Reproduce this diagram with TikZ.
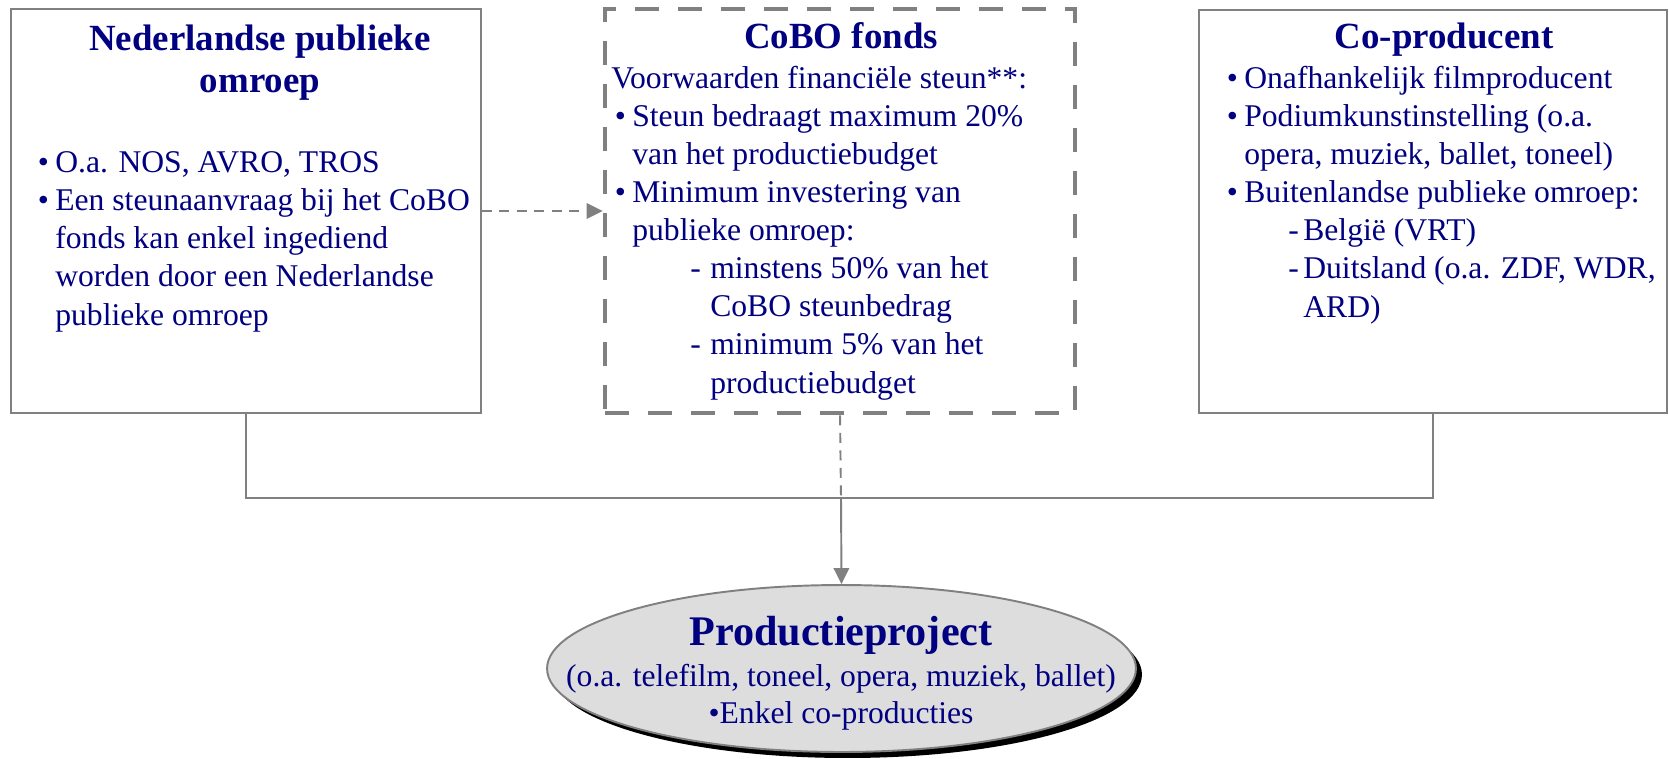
\documentclass[tikz,border=0pt]{standalone}
\usepackage{fontspec}
\setmainfont{Liberation Serif}
\usetikzlibrary{arrows.meta,positioning,shapes.geometric,shadows}

\definecolor{navy}{RGB}{0,0,128}
\definecolor{edgegray}{RGB}{128,128,128}
\definecolor{ovalgray}{RGB}{221,221,221}

\newcommand{\bodyfont}{\fontsize{18}{21.7}\selectfont}
\newcommand{\headfont}{\fontsize{21}{23.9}\selectfont\bfseries}
\newcommand{\bul}{\llap{\textbullet\hspace{0.13cm}}}
\newcommand{\ind}{\hspace*{0.42cm}}
\newcommand{\subln}[2]{\hspace*{#1}\llap{-\hspace{#2}}}

\begin{document}
\begin{tikzpicture}[
		x=0.02cm,y=-0.02cm,
		>={Triangle[length=0.32cm,width=0.31cm]},
		every node/.style={font=\bodyfont, text=navy},
		box/.style={draw=edgegray, line width=1.1pt, inner sep=0pt,
			minimum width=9.4cm, minimum height=8.08cm},
		head/.style={font=\headfont, anchor=base, align=center},
		list/.style={anchor=base west, align=left, inner sep=0pt},
		link/.style={draw=edgegray, line width=1.1pt},
		thinlink/.style={link, dash pattern=on 0.2cm off 0.15cm}
		]
		\useasboundingbox (0,0) rectangle (1669,758);
		
		% =========================
		% Top row: three boxes
		% =========================
		\node[box] (npo) at (246,211) {};
		\node[box, line width=2.7pt, dash pattern=on 0.48cm off 0.38cm] (cobo) at (840,211) {};
		\node[box, minimum width=9.36cm, minimum height=8.06cm] (cop) at (1433,211.5) {};
		
		% titles (base = last line)
		\node[head] (npo-t) at (260,92) {Nederlandse publieke\\omroep};
		\node[head] (cobo-t) at (841,48) {CoBO fonds};
		\node[head] (cop-t) at (1444,48) {Co-producent};
		
		% left: Dutch public broadcaster
		\node[list] (npo-l) at (55,325) {
			\bul O.a. NOS, AVRO, TROS\\
			\bul Een steunaanvraag bij het CoBO\\
			fonds kan enkel ingediend\\
			worden door een Nederlandse\\
			publieke omroep
		};
		
		% middle: fund conditions
		\node[list] (cobo-l) at (611,393) {
			Voorwaarden financiële steun**:\\
			\ind\bul Steun bedraagt maximum 20\%\\
			\ind van het productiebudget\\
			\ind\bul Minimum investering van\\
			\ind publieke omroep:\\
			\ind\subln{1.56cm}{0.19cm}minstens 50\% van het\\
			\ind\hspace*{1.56cm}CoBO steunbedrag\\
			\ind\subln{1.56cm}{0.19cm}minimum 5\% van het\\
			\ind\hspace*{1.56cm}productiebudget
		};
		
		% right: co-producer
		\node[list] (cop-l) at (1244,317) {
			\bul Onafhankelijk filmproducent\\
			\bul Podiumkunstinstelling (o.a.\\
			opera, muziek, ballet, toneel)\\
			\bul Buitenlandse publieke omroep:\\
			\subln{1.18cm}{0.09cm}België (VRT)\\
			\subln{1.18cm}{0.09cm}Duitsland (o.a. ZDF, WDR,\\
			\hspace*{1.18cm}ARD)
		};
		
		% =========================
		% Bottom: production project
		% =========================
		\node[ellipse, draw=edgegray, line width=1.1pt, fill=ovalgray,
		minimum width=11.78cm, minimum height=3.34cm, inner sep=0pt,
		drop shadow={shadow xshift=0.12cm, shadow yshift=-0.12cm, fill=black, opacity=1}]
		(proj) at (841.5,668.5) {};
		\node[anchor=base, font=\fontsize{24}{26}\selectfont\bfseries] (proj-t) at (841,645) {Productieproject};
		\node[anchor=base] (proj-s) at (841,686) {(o.a. telefilm, toneel, opera, muziek, ballet)};
		\node[anchor=base] (proj-b) at (841,723) {\textbullet Enkel co-producties};
		
		% connectors
		\coordinate (jn) at (841,498);
		\draw[link] (npo.south) |- (jn) -| (cop.south);
		\draw[thinlink] (cobo.south) -- (jn);
		\draw[link, ->] (jn) -- (proj.north);
		\draw[thinlink, ->] (npo.east) -- (cobo.west);
		
	\end{tikzpicture}
\end{document}
